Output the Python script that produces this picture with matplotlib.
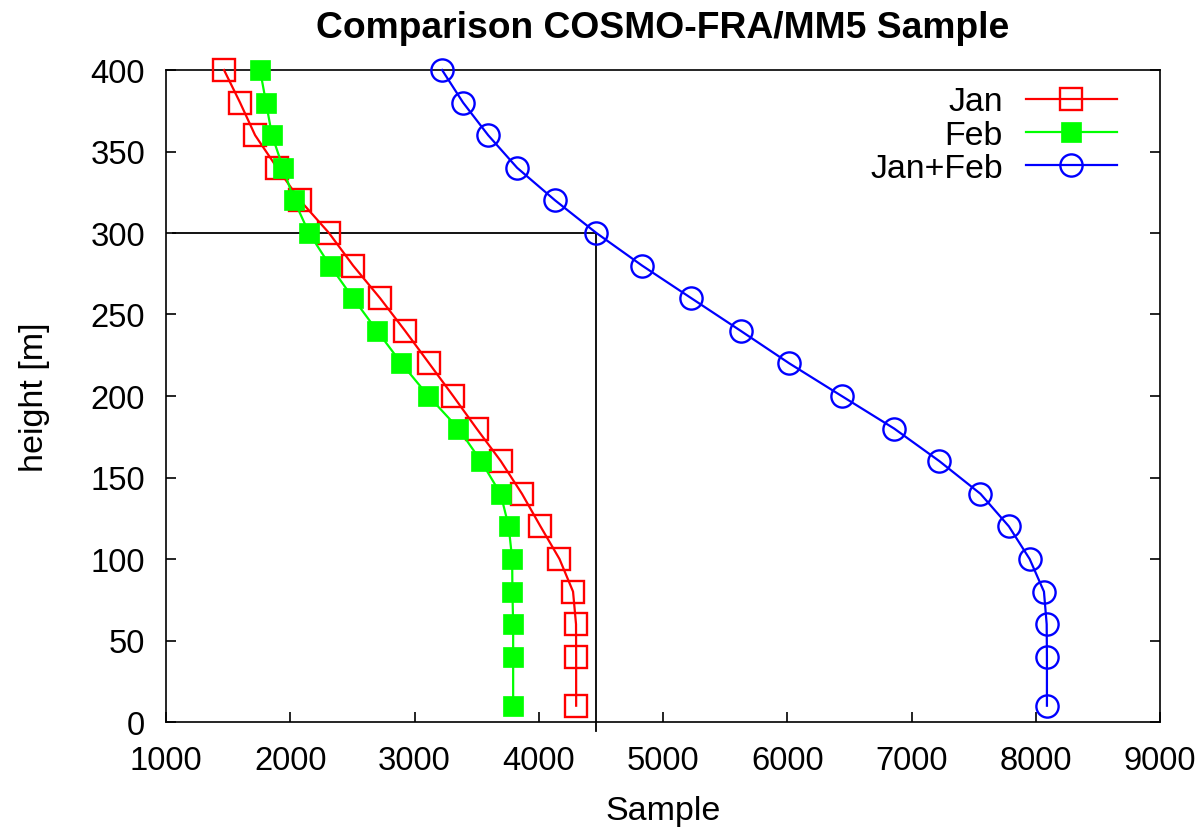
import matplotlib
matplotlib.use("Agg")
import matplotlib.pyplot as plt

plt.rcParams['font.family'] = ['Liberation Sans', 'DejaVu Sans']

height = [400, 380, 360, 340, 320, 300, 280, 260, 240, 220,
          200, 180, 160, 140, 120, 100, 80, 60, 40, 10]
jan = [1467, 1596, 1717, 1894, 2079, 2312, 2506, 2723, 2924, 3118,
       3311, 3500, 3695, 3865, 4014, 4167, 4276, 4300, 4301, 4301]
feb = [1757, 1805, 1853, 1942, 2031, 2151, 2320, 2506, 2699, 2895,
       3112, 3354, 3536, 3693, 3758, 3786, 3788, 3794, 3794, 3794]
jan_feb = [3222, 3391, 3593, 3826, 4132, 4464, 4832, 5228, 5625, 6017,
           6438, 6861, 7225, 7555, 7784, 7951, 8066, 8088, 8090, 8090]

ref_height = 300
ref_sample = 4464
ref_x_start = 1056

xticks = [1000, 2000, 3000, 4000, 5000, 6000, 7000, 8000, 9000]
yticks = [0, 50, 100, 150, 200, 250, 300, 350, 400]

fig = plt.figure(figsize=(12.04, 8.28), dpi=100)
ax = fig.add_axes([166 / 1204, 1 - 723 / 828, (1160 - 166) / 1204, (723 - 71) / 828])

fs_tick = 23.6
fs_label = 24.5
fs_title = 26.8
fs_leg = 24.4

ax.plot(jan, height, color='#ff0000', lw=1.6, marker='s', ms=15.5,
        mfc='none', mec='#ff0000', mew=1.7, label='Jan', clip_on=False, zorder=3)
ax.plot(feb, height, color='#00ff00', lw=1.6, marker='s', ms=15,
        mfc='#00ff00', mec='#00ff00', mew=0.5, label='Feb', clip_on=False, zorder=3)
ax.plot(jan_feb, height, color='#0000ff', lw=1.6, marker='o', ms=16,
        mfc='none', mec='#0000ff', mew=1.7, label='Jan+Feb', clip_on=False, zorder=3)

# reference lines at 300 m
ax.plot([ref_x_start, ref_sample], [ref_height, ref_height], color='black', lw=1.3, zorder=2)
ax.plot([ref_sample, ref_sample], [ref_height, -5.5], color='black', lw=1.3,
        clip_on=False, zorder=2)

ax.set_xlim(1000, 9000)
ax.set_ylim(0, 400)
ax.set_xticks(xticks)
ax.set_yticks(yticks)
ax.tick_params(direction='in', length=7.5, width=1.2, labelsize=fs_tick,
               right=True, top=False)
ax.tick_params(axis='x', pad=16.5)
ax.tick_params(axis='y', pad=15)
for s in ax.spines.values():
    s.set_linewidth(1.2)

ax.set_title('Comparison COSMO-FRA/MM5 Sample', fontsize=fs_title, fontweight='bold', pad=24)
ax.set_xlabel('Sample', fontsize=fs_label, labelpad=14)
ax.set_ylabel('height [m]', fontsize=fs_label, labelpad=29)

leg = ax.legend(loc='upper right', markerfirst=False, frameon=False, fontsize=fs_leg,
                handlelength=2.68, labelspacing=0.07, handletextpad=0.68,
                borderaxespad=0.2, bbox_to_anchor=(0.977, 1.006))

fig.savefig('out.png', dpi=100)
